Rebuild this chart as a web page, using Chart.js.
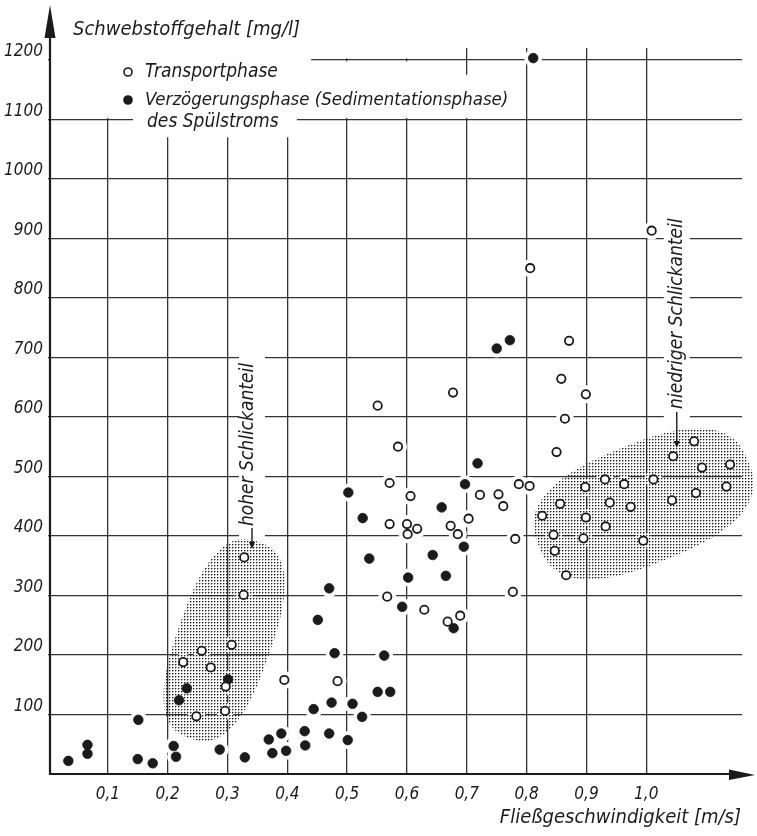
<!DOCTYPE html>
<html>
<head>
<meta charset="utf-8">
<script src="https://cdn.jsdelivr.net/npm/chart.js"></script>
<style>
  html, body { margin: 0; padding: 0; background: #fff; }
</style>
</head>
<body>
<canvas id="myChart" width="757" height="836"></canvas>
<script>
// Transportphase (offene Kreise): Fliessgeschwindigkeit [m/s] / Schwebstoffgehalt [mg/l]
const transportV = [0.226, 0.248, 0.257, 0.272, 0.296, 0.297, 0.307, 0.327, 0.328, 0.395, 0.484,
  0.551, 0.567, 0.571, 0.571, 0.585, 0.600, 0.601, 0.606, 0.617, 0.629, 0.668, 0.673, 0.677,
  0.685, 0.689, 0.703, 0.722, 0.753, 0.761, 0.777, 0.781, 0.787, 0.805, 0.806, 0.826, 0.845,
  0.847, 0.850, 0.856, 0.858, 0.864, 0.866, 0.871, 0.895, 0.898, 0.899, 0.899, 0.931, 0.932,
  0.939, 0.963, 0.974, 0.995, 1.009, 1.012, 1.043, 1.045, 1.080, 1.083, 1.093, 1.134, 1.140];
const transportC = [188, 97, 207, 179, 106, 147, 217, 301, 364, 158, 156,
  619, 298, 420, 489, 550, 420, 403, 467, 412, 276, 256, 417, 641,
  403, 266, 429, 469, 470, 450, 306, 395, 487, 484, 850, 434, 402,
  375, 541, 454, 664, 597, 334, 728, 396, 482, 431, 638, 495, 416,
  456, 487, 449, 392, 913, 495, 460, 534, 559, 472, 515, 483, 520];

// Verzoegerungsphase (volle Kreise)
const verzV = [0.034, 0.066, 0.066, 0.150, 0.151, 0.175, 0.210, 0.214, 0.219, 0.232, 0.287,
  0.301, 0.329, 0.369, 0.375, 0.390, 0.398, 0.429, 0.430, 0.444, 0.451, 0.470, 0.470, 0.474,
  0.479, 0.501, 0.502, 0.509, 0.525, 0.526, 0.537, 0.551, 0.562, 0.572, 0.592, 0.602, 0.643,
  0.658, 0.665, 0.678, 0.695, 0.697, 0.718, 0.750, 0.772, 0.811];
const verzC = [22, 49, 34, 25, 91, 18, 47, 29, 124, 144, 41,
  159, 28, 58, 35, 68, 39, 72, 48, 109, 259, 68, 312, 120,
  203, 57, 473, 118, 96, 430, 362, 138, 199, 138, 281, 330, 368,
  448, 333, 245, 382, 487, 522, 715, 729, 1203];

const xTickValues = [0.1, 0.2, 0.3, 0.4, 0.5, 0.6, 0.7, 0.8, 0.9, 1.0];
const xTickLabels = ["0,1", "0,2", "0,3", "0,4", "0,5", "0,6", "0,7", "0,8", "0,9", "1,0"];
const yTickValues = [100, 200, 300, 400, 500, 600, 700, 800, 900, 1000, 1100, 1200];
const yTickLabels = ["100", "200", "300", "400", "500", "600", "700", "800", "900", "1000", "1100", "1200"];

const FAMILY = "'DejaVu Sans Condensed', 'DejaVu Sans', sans-serif";
const INK = "#1b1b1b";
const GRID = "#333";

function toPoints(xs, ys) {
  return xs.map((v, i) => ({ x: v, y: ys[i] }));
}

// dot raster for the shaded areas
function stipple(ctx) {
  let c = document.createElement("canvas");
  c.width = 3;
  c.height = 3;
  let g = c.getContext("2d");
  g.fillStyle = "rgba(15,15,15,0.95)";
  g.fillRect(1, 1, 1, 1);
  g.fillStyle = "rgba(15,15,15,0.4)";
  g.fillRect(2, 1, 1, 1);
  g.fillRect(1, 2, 1, 1);
  return ctx.createPattern(c, "repeat");
}

// superellipse around a data centre, radii in pixels
function blob(ctx, cx, cy, a, b, rot, n) {
  let u = [Math.cos(rot), Math.sin(rot)];
  let w = [-Math.sin(rot), Math.cos(rot)];
  ctx.beginPath();
  for (let k = 0; k <= 120; k++) {
    let t = (k / 120) * Math.PI * 2;
    let c = Math.cos(t), s = Math.sin(t);
    let p = a * Math.sign(c) * Math.pow(Math.abs(c), 2 / n);
    let q = b * Math.sign(s) * Math.pow(Math.abs(s), 2 / n);
    let px = cx + p * u[0] + q * w[0];
    let py = cy + p * u[1] + q * w[1];
    if (k == 0) ctx.moveTo(px, py);
    else ctx.lineTo(px, py);
  }
  ctx.closePath();
}

function txt(ctx, s, x, y, size, align) {
  ctx.font = "italic " + size + "px " + FAMILY;
  ctx.textAlign = align || "left";
  ctx.textBaseline = "middle";
  ctx.fillStyle = INK;
  ctx.fillText(s, x, y);
}

function arrowDown(ctx, x, yTop, yTip) {
  ctx.strokeStyle = INK;
  ctx.lineWidth = 1.4;
  ctx.beginPath();
  ctx.moveTo(x, yTop);
  ctx.lineTo(x, yTip - 4);
  ctx.stroke();
  ctx.fillStyle = INK;
  ctx.beginPath();
  ctx.moveTo(x, yTip);
  ctx.lineTo(x - 3, yTip - 7);
  ctx.lineTo(x + 3, yTip - 7);
  ctx.closePath();
  ctx.fill();
}

const drawing = {
  id: "drawing",
  beforeDatasetsDraw(chart) {
    const ctx = chart.ctx;
    const x = chart.scales.x;
    const y = chart.scales.y;
    const X = (v) => x.getPixelForValue(v);
    const Y = (v) => y.getPixelForValue(v);
    ctx.save();
    ctx.fillStyle = "#fff";
    // legend area free of grid
    ctx.fillRect(X(0) + 2, 0, X(0.44) - X(0) - 2, Y(1100) - 1.5);
    ctx.fillRect(X(0.44), 0, X(0.69) - X(0.44), Y(1200) - 1.5);
    ctx.fillRect(X(0.44), Y(1200) + 1.5, X(0.68) - X(0.44), Y(1100) - Y(1200) - 3);
    ctx.fillRect(X(0.68), Y(1175), X(0.78) - X(0.68), Y(1100) - Y(1175) - 1.5);
    ctx.fillRect(X(0.142), Y(1100) - 2, X(0.416) - X(0.142), Y(1070) - Y(1100) + 2);
    // white gaps round the marks
    chart.data.datasets.forEach((ds, i) => {
      chart.getDatasetMeta(i).data.forEach((pt) => {
        ctx.beginPath();
        ctx.arc(pt.x, pt.y, 9, 0, Math.PI * 2);
        ctx.fill();
      });
    });
    // gaps behind the upright notes
    ctx.fillRect(X(0.341) - 13, Y(378) - 202, 26, 202);
    ctx.fillRect(X(1.051) - 13, Y(548) - 240, 26, 240);
    // shaded areas
    ctx.fillStyle = stipple(ctx);
    blob(ctx, X(0.2944), Y(225), 104, 47, -1.234, 2.6);
    ctx.fill();
    blob(ctx, X(0.9955), Y(454), 113, 60, -0.385, 2.6);
    ctx.fill();
    ctx.restore();
  },
  afterDatasetsDraw(chart) {
    const ctx = chart.ctx;
    const a = chart.chartArea;
    const x = chart.scales.x;
    const y = chart.scales.y;
    const X = (v) => x.getPixelForValue(v);
    const Y = (v) => y.getPixelForValue(v);
    ctx.save();

    // axes with arrows
    let ax = a.left + 2;
    ctx.strokeStyle = INK;
    ctx.fillStyle = INK;
    ctx.lineWidth = 2.2;
    ctx.beginPath();
    ctx.moveTo(ax, a.bottom + 1);
    ctx.lineTo(ax, 30);
    ctx.moveTo(ax - 1, a.bottom);
    ctx.lineTo(735, a.bottom);
    ctx.stroke();
    ctx.beginPath();
    ctx.moveTo(ax, 5);
    ctx.lineTo(ax - 5.5, 38);
    ctx.lineTo(ax + 5.5, 38);
    ctx.closePath();
    ctx.fill();
    ctx.beginPath();
    ctx.moveTo(755, a.bottom + 1);
    ctx.lineTo(729, a.bottom - 4.5);
    ctx.lineTo(729, a.bottom + 6);
    ctx.closePath();
    ctx.fill();

    // axis titles
    txt(ctx, "Schwebstoffgehalt [mg/l]", 73, 30, 20);
    txt(ctx, "Fließgeschwindigkeit [m/s]", 741, 818, 20, "right");

    // legend
    ctx.lineWidth = 1.6;
    ctx.strokeStyle = INK;
    ctx.fillStyle = "#fff";
    ctx.beginPath();
    ctx.arc(128, 72, 4, 0, Math.PI * 2);
    ctx.fill();
    ctx.stroke();
    ctx.fillStyle = INK;
    ctx.beginPath();
    ctx.arc(128, 100, 4.8, 0, Math.PI * 2);
    ctx.fill();
    txt(ctx, "Transportphase", 145, 72, 19);
    txt(ctx, "Verzögerungsphase (Sedimentationsphase)", 145, 100, 18.5);
    txt(ctx, "des Spülstroms", 147, 122, 19);

    // notes on the shaded areas
    let hx = X(0.341), hy = Y(378);
    arrowDown(ctx, hx, hy - 21, hy);
    ctx.save();
    ctx.translate(hx - 4, hy - 23);
    ctx.rotate(-Math.PI / 2);
    txt(ctx, "hoher Schlickanteil", 0, 0, 19);
    ctx.restore();

    let nx = X(1.051), ny = Y(548);
    arrowDown(ctx, nx, ny - 36, ny);
    ctx.save();
    ctx.translate(nx, ny - 39);
    ctx.rotate(-Math.PI / 2);
    txt(ctx, "niedriger Schlickanteil", 0, 0, 19);
    ctx.restore();

    ctx.restore();
  }
};

var ctx = document.getElementById("myChart").getContext("2d");

var myChart = new Chart(ctx, {
  type: "scatter",
  plugins: [drawing],
  data: {
    datasets: [
      {
        label: "Transportphase",
        data: toPoints(transportV, transportC),
        pointStyle: "circle",
        pointRadius: 4.2,
        pointBorderWidth: 1.8,
        borderColor: INK,
        backgroundColor: "#fff",
        clip: false
      },
      {
        label: "Verzögerungsphase (Sedimentationsphase) des Spülstroms",
        data: toPoints(verzV, verzC),
        pointStyle: "circle",
        pointRadius: 4.8,
        pointBorderWidth: 0.8,
        borderColor: INK,
        backgroundColor: INK,
        clip: false
      }
    ]
  },
  options: {
    responsive: false,
    animation: false,
    devicePixelRatio: 1,
    layout: {
      padding: { top: 48, right: 15, bottom: 0, left: 0 }
    },
    plugins: {
      legend: { display: false },
      tooltip: { enabled: false }
    },
    scales: {
      x: {
        type: "linear",
        min: 0,
        max: 1.16,
        afterFit(s) {
          s.height = 62;
        },
        afterBuildTicks(s) {
          s.ticks = xTickValues.map((v) => ({ value: v }));
        },
        border: { display: false },
        grid: { color: GRID, lineWidth: 1.3, drawTicks: false },
        ticks: {
          padding: 10,
          color: INK,
          font: { family: FAMILY, size: 17, style: "italic" },
          maxRotation: 0,
          autoSkip: false,
          callback: (v, i) => xTickLabels[i]
        }
      },
      y: {
        type: "linear",
        min: 0,
        max: 1220,
        afterFit(s) {
          s.width = 48;
        },
        afterBuildTicks(s) {
          s.ticks = yTickValues.map((v) => ({ value: v }));
        },
        border: { display: false },
        grid: { color: GRID, lineWidth: 1.3, drawTicks: false },
        ticks: {
          padding: 5,
          labelOffset: -8,
          color: INK,
          font: { family: FAMILY, size: 17, style: "italic" },
          autoSkip: false,
          callback: (v, i) => yTickLabels[i]
        }
      }
    }
  }
});
</script>
</body>
</html>
